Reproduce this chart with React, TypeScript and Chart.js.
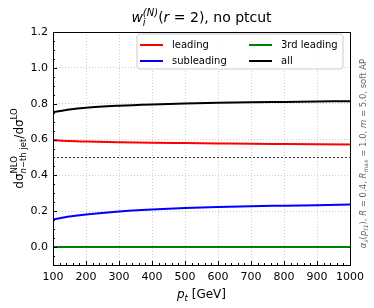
import React, { useEffect, useRef } from "react";
import { Chart, registerables } from "chart.js";

Chart.register(...registerables);

const pt = [100, 150, 200, 300, 400, 500, 600, 700, 800, 900, 1000];
const leading = [0.597, 0.592, 0.589, 0.585, 0.582, 0.580, 0.578, 0.576, 0.575, 0.574, 0.573];
const subleading = [0.154, 0.170, 0.182, 0.199, 0.210, 0.218, 0.224, 0.228, 0.231, 0.234, 0.237];
const thirdLeading = [0, 0, 0, 0, 0, 0, 0, 0, 0, 0, 0];
const allJets = [0.753, 0.768, 0.778, 0.789, 0.796, 0.801, 0.805, 0.808, 0.810, 0.812, 0.814];
const refX = [100, 1000];
const refY = [0.5, 0.5];

const xTicks = [100, 200, 300, 400, 500, 600, 700, 800, 900, 1000];
const yTicks = [0.0, 0.2, 0.4, 0.6, 0.8, 1.0, 1.2];
const xMinorStep = 20;
const yMinorStep = 0.05;

const legendItems = [
  { label: "leading", color: "#ff0000" },
  { label: "subleading", color: "#0000ff" },
  { label: "3rd leading", color: "#008000" },
  { label: "all", color: "#000000" },
];

const FAM = '"DejaVu Sans", sans-serif';

// hold: superscript whose width is shared with following "sub" segments
type Seg = { t: string; s: number; it?: boolean; dy?: number; hold?: boolean; sub?: boolean };

function layoutRich(ctx: CanvasRenderingContext2D, segs: Seg[]) {
  const xs: number[] = [];
  let cx = 0;
  let stackStart = -1;
  let held = 0;
  let subAcc = 0;
  const close = () => {
    if (stackStart >= 0) {
      cx = stackStart + Math.max(held, subAcc);
      stackStart = -1;
      held = 0;
      subAcc = 0;
    }
  };
  for (const s of segs) {
    ctx.font = `${s.it ? "italic " : ""}${s.s}px ${FAM}`;
    const w = ctx.measureText(s.t).width;
    if (s.hold) {
      close();
      stackStart = cx;
      held = w;
      xs.push(cx);
    } else if (s.sub && stackStart >= 0) {
      xs.push(stackStart + subAcc);
      subAcc += w;
    } else {
      close();
      xs.push(cx);
      cx += w;
    }
  }
  close();
  return { xs, total: cx };
}

function drawRich(ctx: CanvasRenderingContext2D, segs: Seg[], x: number, y: number, align: "center" | "left") {
  const { xs, total } = layoutRich(ctx, segs);
  const x0 = align === "center" ? x - total / 2 : x;
  ctx.textAlign = "left";
  ctx.textBaseline = "alphabetic";
  segs.forEach((s, i) => {
    ctx.font = `${s.it ? "italic " : ""}${s.s}px ${FAM}`;
    ctx.fillText(s.t, x0 + xs[i], y + (s.dy || 0));
  });
}

const decor = {
  id: "decor",
  beforeDraw(chart: any) {
    const ctx = chart.ctx;
    ctx.save();
    ctx.fillStyle = "#ffffff";
    ctx.fillRect(0, 0, chart.width, chart.height);
    ctx.restore();
  },
  afterDatasetsDraw(chart: any) {
    const ctx: CanvasRenderingContext2D = chart.ctx;
    const a = chart.chartArea;
    const xs = chart.scales.x;
    const ys = chart.scales.y;
    ctx.save();
    ctx.strokeStyle = "#000";
    ctx.lineWidth = 1;
    ctx.beginPath();
    for (let v = xs.min; v <= xs.max + 1e-9; v += xMinorStep) {
      const px = Math.round(xs.getPixelForValue(v)) + 0.5;
      const major = xTicks.includes(Math.round(v));
      ctx.moveTo(px, a.bottom);
      ctx.lineTo(px, a.bottom - (major ? 4 : 2));
    }
    for (let v = -0.1; v <= ys.max + 1e-9; v += yMinorStep) {
      const py = Math.round(ys.getPixelForValue(v)) + 0.5;
      const major = yTicks.some((t) => Math.abs(t - v) < 1e-6);
      ctx.moveTo(a.left, py);
      ctx.lineTo(a.left + (major ? 4 : 2), py);
    }
    ctx.stroke();
    ctx.strokeRect(Math.round(a.left) + 0.5, Math.round(a.top) + 0.5, Math.round(a.right - a.left), Math.round(a.bottom - a.top));
    // legend
    const lx = 137, ly = 34, lw = 206, lh = 35;
    ctx.beginPath();
    const r = 3;
    ctx.moveTo(lx + r, ly);
    ctx.arcTo(lx + lw, ly, lx + lw, ly + lh, r);
    ctx.arcTo(lx + lw, ly + lh, lx, ly + lh, r);
    ctx.arcTo(lx, ly + lh, lx, ly, r);
    ctx.arcTo(lx, ly, lx + lw, ly, r);
    ctx.closePath();
    ctx.fillStyle = "rgba(255,255,255,0.85)";
    ctx.fill();
    ctx.strokeStyle = "#cccccc";
    ctx.lineWidth = 1;
    ctx.stroke();
    const cols = [140, 249];
    const rows = [45, 61];
    legendItems.forEach((it, i) => {
      const c = Math.floor(i / 2);
      const rr = i % 2;
      const x0 = cols[c];
      const y0 = rows[rr];
      ctx.strokeStyle = it.color;
      ctx.lineWidth = 2;
      ctx.beginPath();
      ctx.moveTo(x0, y0);
      ctx.lineTo(x0 + 23, y0);
      ctx.stroke();
      ctx.fillStyle = "#000";
      ctx.font = `10px ${FAM}`;
      ctx.textAlign = "left";
      ctx.textBaseline = "middle";
      ctx.fillText(it.label, x0 + 32, y0);
    });
    ctx.restore();
  },
  afterDraw(chart: any) {
    const ctx: CanvasRenderingContext2D = chart.ctx;
    const a = chart.chartArea;
    const cx = (a.left + a.right) / 2;
    ctx.save();
    ctx.fillStyle = "#000";
    drawRich(
      ctx,
      [
        { t: "w", s: 14, it: true },
        { t: "(N)", s: 10, it: true, dy: -6, hold: true },
        { t: "i", s: 10, it: true, dy: 4, sub: true },
        { t: "(", s: 14 },
        { t: "r", s: 14, it: true },
        { t: " = 2), no ptcut", s: 14 },
      ],
      cx,
      22,
      "center"
    );
    drawRich(
      ctx,
      [
        { t: "p", s: 12, it: true },
        { t: "t", s: 8.5, it: true, dy: 3 },
        { t: " [GeV]", s: 12 },
      ],
      cx,
      298,
      "center"
    );
    ctx.save();
    ctx.translate(23, (a.top + a.bottom) / 2);
    ctx.rotate(-Math.PI / 2);
    drawRich(
      ctx,
      [
        { t: "dσ", s: 12 },
        { t: "NLO", s: 8.5, dy: -6, hold: true },
        { t: "n", s: 8.5, it: true, dy: 3, sub: true },
        { t: "−th jet", s: 8.5, dy: 3, sub: true },
        { t: "/dσ", s: 12 },
        { t: "LO", s: 8.5, dy: -6 },
      ],
      0,
      0,
      "center"
    );
    ctx.restore();
    ctx.save();
    ctx.fillStyle = "#666666";
    ctx.translate(366, (a.top + a.bottom) / 2 + 5);
    ctx.rotate(-Math.PI / 2);
    drawRich(
      ctx,
      [
        { t: "α", s: 8.5, it: true },
        { t: "s", s: 6, it: true, dy: 2 },
        { t: "(", s: 8.5 },
        { t: "p", s: 8.5, it: true },
        { t: "t1", s: 6, it: true, dy: 2 },
        { t: "), ", s: 8.5 },
        { t: "R", s: 8.5, it: true },
        { t: " = 0.4, ", s: 8.5 },
        { t: "R", s: 8.5, it: true },
        { t: "max", s: 6, dy: 2 },
        { t: " = 1.0, ", s: 8.5 },
        { t: "m", s: 8.5, it: true },
        { t: " = 5.0, soft AP", s: 8.5 },
      ],
      0,
      0,
      "center"
    );
    ctx.restore();
    ctx.restore();
  },
};

export default function App() {
  const ref = useRef<HTMLCanvasElement | null>(null);
  useEffect(() => {
    if (!ref.current) return;
    const mk = (ys: number[]) => pt.map((x, i) => ({ x, y: ys[i] }));
    const line = (ys: number[], color: string) => ({
      data: mk(ys),
      borderColor: color,
      backgroundColor: color,
      borderWidth: 2,
      pointRadius: 0,
      cubicInterpolationMode: "monotone" as const,
      fill: false,
    });
    const tickFont = { family: FAM, size: 11 };
    const chart = new Chart(ref.current, {
      type: "line",
      data: {
        datasets: [
          {
            data: refX.map((x, i) => ({ x, y: refY[i] })),
            borderColor: "#000",
            borderWidth: 0.8,
            borderDash: [2, 2],
            pointRadius: 0,
            fill: false,
          },
          line(thirdLeading, "#008000"),
          line(subleading, "#0000ff"),
          line(leading, "#ff0000"),
          line(allJets, "#000000"),
        ] as any,
      },
      options: {
        animation: false,
        responsive: false,
        maintainAspectRatio: false,
        layout: { padding: { top: 32, right: 24, left: 0, bottom: 0 } },
        plugins: { legend: { display: false }, title: { display: false }, tooltip: { enabled: false } },
        scales: {
          x: {
            type: "linear",
            min: 100,
            max: 1000,
            afterBuildTicks: (s: any) => {
              s.ticks = xTicks.map((v) => ({ value: v }));
            },
            afterFit: (s: any) => {
              s.height = 43;
            },
            grid: { color: "#c0c0c0", lineWidth: 0.8, drawTicks: false },
            border: { display: false, dash: [1, 2] },
            ticks: {
              padding: 6,
              font: tickFont,
              color: "#000",
              maxRotation: 0,
              autoSkip: false,
              callback: (v: any) => String(v),
            },
          },
          y: {
            type: "linear",
            min: -0.1,
            max: 1.2,
            afterBuildTicks: (s: any) => {
              s.ticks = yTicks.map((v) => ({ value: v }));
            },
            afterFit: (s: any) => {
              s.width = 53;
            },
            grid: { color: "#c0c0c0", lineWidth: 0.8, drawTicks: false },
            border: { display: false, dash: [1, 2] },
            ticks: {
              padding: 5,
              font: tickFont,
              color: "#000",
              autoSkip: false,
              callback: (v: any) => Number(v).toFixed(1),
            },
          },
        },
      },
      plugins: [decor],
    } as any);
    return () => chart.destroy();
  }, []);
  return (
    <div style={{ position: "absolute", left: 0, top: 0, width: 374, height: 308 }}>
      <canvas ref={ref} width={374} height={308} style={{ width: 374, height: 308, display: "block" }} />
    </div>
  );
}
